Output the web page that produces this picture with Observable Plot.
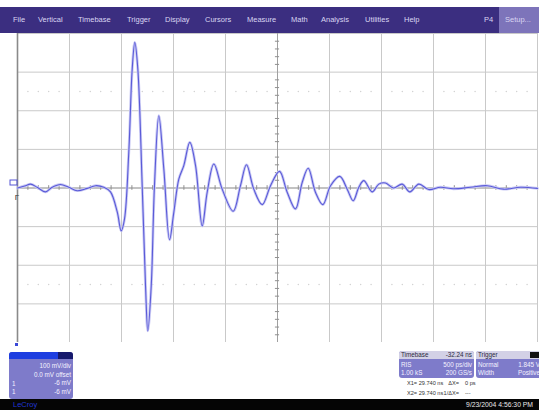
<!DOCTYPE html>
<html>
<head>
<meta charset="utf-8">
<script src="https://cdn.jsdelivr.net/npm/d3@7"></script>
<script src="https://cdn.jsdelivr.net/npm/@observablehq/plot@0.6"></script>
<style>
  html, body { margin: 0; padding: 0; background: #fff; }
  #scope { position: relative; width: 539px; height: 410px; overflow: hidden; background: #fff;
           font-family: "Liberation Sans", Arial, sans-serif; }
  #menu { position: absolute; left: 0; top: 7px; width: 539px; height: 26px; background: #3b2e80; }
  #menu span { position: absolute; top: 8px; font-size: 7.5px; color: #d9d5f2; white-space: nowrap; }
  #setup { position: absolute; left: 499px; top: 0; width: 40px; height: 26px; background: #7d74ba; }
  #chart { position: absolute; left: 0; top: 33px; }
  .panel { position: absolute; background: #7e7bca; border-radius: 3px; overflow: hidden; }
  .panel div { position: absolute; font-size: 6.3px; color: #f4f2ff; white-space: nowrap; }
  .hdr { position: absolute; left: 0; top: 0; height: 7px; }
  .small { position: absolute; font-size: 5.6px; color: #333; white-space: nowrap; }
  #footer { position: absolute; left: 0; top: 399px; width: 539px; height: 11px; background: #050505; }
</style>
</head>
<body>
<div id="scope">
  <div id="menu"></div>
  <div id="chart"></div>
  <div id="panels"></div>
  <div id="footer"></div>
</div>
<script>
// ---- data (time in ns from left edge, 500 ps/div; voltage in mV, 100 mV/div)
const time_ns = [0, 0.077, 0.125, 0.189, 0.269, 0.334, 0.413, 0.493, 0.574, 0.670, 0.75, 0.830, 0.894, 0.959, 0.997, 1.029,
  1.070, 1.103, 1.128, 1.157, 1.199, 1.231, 1.253, 1.286, 1.317, 1.359, 1.407, 1.462, 1.503, 1.551, 1.599, 1.657,
  1.712, 1.776, 1.824, 1.888, 1.968, 2.074, 2.144, 2.202, 2.272, 2.353, 2.433, 2.519, 2.593, 2.673, 2.738, 2.795,
  2.865, 2.936, 3.010, 3.099, 3.170, 3.228, 3.282, 3.330, 3.410, 3.474, 3.538, 3.615, 3.699, 3.772, 3.859, 3.955,
  4.067, 4.192, 4.356, 4.516, 4.673, 4.837, 5.0];
const volts_mV = [0, 6, 10, 2, -10, 2, 9, 2, -7, -1, 6, 2, -10, -62, -111, -80,
  92, 308, 377, 308, 6, -253, -370, -253, 6, 187, 49, -134, -63, 23, 58, 118,
  58, -98, -11, 62, -3, -60, 6, 60, -3, -43, 6, 43, -11, -54, 15, 51,
  -11, -43, 6, 30, -3, -33, 2, 19, -10, 10, 13, 0, 10, -10, 10, -4,
  2, -2, 2, 6, -3, 2, -1];

const gridTimes = [0, 0.5, 1, 1.5, 2, 2.5, 3, 3.5, 4, 4.5, 5];
const gridVolts = [-400, -300, -200, -100, 0, 100, 200, 300, 400];
const markerVolts = [-250, 250];

const menuItems = ["File", "Vertical", "Timebase", "Trigger", "Display", "Cursors", "Measure", "Math", "Analysis", "Utilities", "Help", "P4", "Setup..."];
const menuX = [13, 38, 78, 127, 165, 205, 247, 291, 321, 365, 404, 484, 505];

const channelLabels = ["100 mV/div", "0.0 mV offset", "-6 mV", "-6 mV"];
const timebaseRows = [["Timebase", "-32.24 ns"], ["RIS", "500 ps/div"], ["1.00 kS", "200 GS/s"]];
const triggerRows = [["Trigger", ""], ["Normal", "1.845 V"], ["Width", "Positive"]];
const cursorRows = [["X1= 29.740 ns", "\u0394X=", "0 ps"], ["X2= 29.740 ns", "1/\u0394X=", "---"]];
const brand = "LeCroy";
const stamp = "9/23/2004 4:56:30 PM";

// ---- menu
const menu = document.getElementById("menu");
menu.insertAdjacentHTML("beforeend", '<div id="setup"></div>');
menuItems.forEach((m, i) => {
  const s = document.createElement("span");
  s.textContent = m;
  s.style.left = menuX[i] + "px";
  menu.appendChild(s);
});

// ---- plot
const minorTimes = d3.range(0, 50.5).map(i => i / 10).filter(t => Math.abs(t * 2 - Math.round(t * 2)) > 1e-6);
const minorVolts = d3.range(-20, 21).map(i => i * 20).filter(v => v % 100 !== 0);
const dotTimes = minorTimes.flatMap(t => markerVolts.map(v => ({t, v})));
const trace = time_ns.map((t, i) => ({t, v: volts_mV[i]}));

const plot = Plot.plot({
  width: 539, height: 309,
  marginLeft: 17, marginRight: 2, marginTop: 0, marginBottom: 0,
  x: {domain: [0, 5], axis: null},
  y: {domain: [-400, 400], axis: null},
  marks: [
    Plot.ruleX(gridTimes, {stroke: "#c9c9c9", strokeWidth: 1}),
    Plot.ruleY(gridVolts, {stroke: "#c9c9c9", strokeWidth: 1}),
    Plot.dot(dotTimes, {x: "t", y: "v", r: 0.7, fill: "#cfcfcf", stroke: null}),
    Plot.ruleY([0], {stroke: "#a0a0a0", strokeWidth: 1}),
    Plot.ruleX([2.5], {stroke: "#a0a0a0", strokeWidth: 1}),
    Plot.ruleX(minorTimes, {y1: -6, y2: 6, stroke: "#909090", strokeWidth: 1}),
    Plot.ruleY(minorVolts, {x1: 2.48, x2: 2.52, stroke: "#909090", strokeWidth: 1}),
    Plot.ruleX([0], {stroke: "#8a8a8a", strokeWidth: 1.6}),
    Plot.line(trace, {x: "t", y: "v", curve: "catmull-rom", stroke: "#cacaf4", strokeWidth: 2.8}),
    Plot.line(trace, {x: "t", y: "v", curve: "catmull-rom", stroke: "#5a5ad8", strokeWidth: 1.1})
  ]
});
document.getElementById("chart").appendChild(plot);

// channel marker and trigger marker
const svg = d3.select(plot);
svg.append("rect").attr("x", 10).attr("y", 147).attr("width", 7).attr("height", 5)
  .attr("fill", "none").attr("stroke", "#5656d6").attr("stroke-width", 1);
svg.append("text").attr("x", 17).attr("y", 167).attr("font-size", 8).attr("fill", "#333")
  .attr("font-family", "Liberation Sans, Arial").text("\u0393");

// ---- panels
const scope = document.getElementById("scope");
function addPanel(x, y, w, h, html, bg) {
  const p = document.createElement("div");
  p.className = "panel";
  Object.assign(p.style, {left: x + "px", top: y + "px", width: w + "px", height: h + "px"});
  if (bg) p.style.background = bg;
  p.innerHTML = html;
  scope.appendChild(p);
  return p;
}
// small blue position marker
scope.insertAdjacentHTML("beforeend",
  '<div style="position:absolute;left:15px;top:343px;width:3px;height:3px;background:#3a48d8"></div>');

// channel descriptor
let ch = '<div class="hdr" style="width:49px;background:#1e3ee0;height:7px"></div>' +
         '<div class="hdr" style="left:49px;width:15px;background:#16196c;height:7px"></div>';
channelLabels.forEach((t, i) => {
  ch += `<div style="right:2px;top:${10 + i * 8.5}px">${t}</div>`;
});
ch += '<div style="left:3px;top:27.5px">1</div><div style="left:3px;top:36px">1</div>';
addPanel(9, 352, 64, 47, ch);

// timebase
function rowsPanel(rows, extra) {
  let h = '<div class="hdr" style="width:100%;height:7.5px;background:#d3d1e6"></div>';
  rows.forEach((r, i) => {
    const col = i === 0 ? "#2a2a40" : "#f4f2ff";
    const top = i === 0 ? 0 : 1 + i * 8.5;
    h += `<div style="left:2px;top:${top}px;color:${col}">${r[0]}</div>`;
    h += `<div style="right:2px;top:${top}px;color:${col}">${r[1]}</div>`;
  });
  return h + (extra || "");
}
addPanel(399, 351, 75, 27, rowsPanel(timebaseRows));
addPanel(476, 351, 66, 27, rowsPanel(triggerRows,
  '<div style="left:54px;top:0.5px;width:9px;height:6px;background:#111"></div>'));

cursorRows.forEach((r, i) => {
  const y = 380 + i * 9.5;
  scope.insertAdjacentHTML("beforeend",
    `<div class="small" style="left:407px;top:${y}px">${r[0]}</div>` +
    `<div class="small" style="right:${539 - 459}px;top:${y}px">${r[1]}</div>` +
    `<div class="small" style="left:465px;top:${y}px">${r[2]}</div>`);
});

// footer
const footer = document.getElementById("footer");
footer.innerHTML = `<span style="position:absolute;left:13px;top:1px;font-size:7.5px;color:#2036d0">${brand}</span>` +
  `<span style="position:absolute;right:6px;top:1.5px;font-size:6.8px;color:#e8e8e8">${stamp}</span>`;
</script>
</body>
</html>
